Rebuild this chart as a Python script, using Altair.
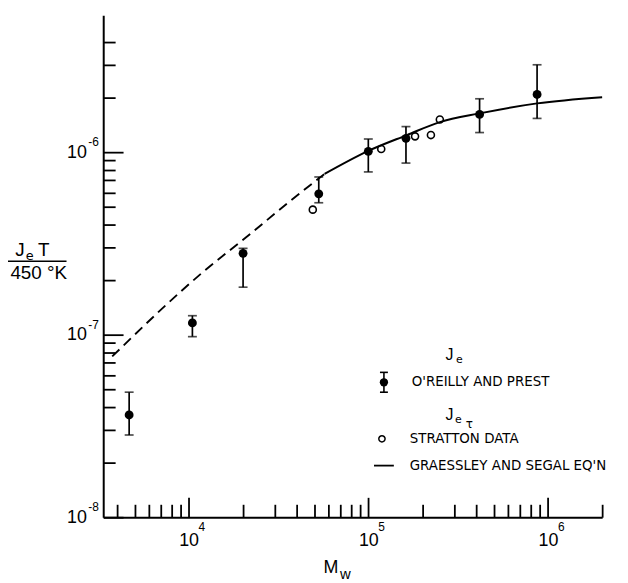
import math
import altair as alt
import pandas as pd

# ---------------- data ----------------
# O'Reilly and Prest (filled circles with error bars)
op_mw = [4670, 10500, 20100, 53000, 100000, 162000, 416000, 869000]
op_j = [3.63e-8, 1.16e-7, 2.79e-7, 5.91e-7, 1.01e-6, 1.19e-6, 1.61e-6, 2.07e-6]
op_hi = [4.84e-8, 1.27e-7, 2.97e-7, 7.31e-7, 1.18e-6, 1.38e-6, 1.96e-6, 3.01e-6]
op_lo = [2.82e-8, 9.75e-8, 1.82e-7, 5.28e-7, 7.79e-7, 8.71e-7, 1.28e-6, 1.53e-6]

# Stratton data (open circles)
st_mw = [49100, 118000, 182000, 223000, 250000]
st_j = [4.84e-7, 1.04e-6, 1.22e-6, 1.24e-6, 1.51e-6]

# Graessley and Segal equation (dashed part, then solid part)
gs_dash_mw = [3760, 12400, 21500, 35700, 57100]
gs_dash_j = [7.6e-8, 2.26e-7, 3.49e-7, 5.28e-7, 7.6e-7]
gs_solid_mw = [57100, 98700, 164000, 250000, 416000, 870000, 2000000]
gs_solid_j = [7.6e-7, 1.01e-6, 1.24e-6, 1.46e-6, 1.63e-6, 1.85e-6, 2.0e-6]

# axes
x_major = [1e4, 1e5, 1e6]
x_major_exp = ["4", "5", "6"]
y_major = [1e-8, 1e-7, 1e-6]
y_major_exp = ["-8", "-7", "-6"]
x_ticks = [4e3, 5e3, 6e3, 7e3, 8e3, 9e3, 1e4,
           2e4, 3e4, 4e4, 5e4, 6e4, 7e4, 8e4, 9e4, 1e5,
           2e5, 3e5, 4e5, 5e5, 6e5, 7e5, 8e5, 9e5, 1e6, 2e6]
y_ticks = [1e-8, 2e-8, 3e-8, 4e-8, 5e-8, 6e-8, 7e-8, 8e-8, 9e-8, 1e-7,
           2e-7, 3e-7, 4e-7, 5e-7, 6e-7, 7e-7, 8e-7, 9e-7, 1e-6,
           2e-6, 3e-6, 4e-6]

x_domain = [3350, 2.0e6]
y_domain = [1e-8, 5.62e-6]

# ---------------- tables ----------------
op_df = pd.DataFrame({"mw": op_mw, "j": op_j, "hi": op_hi, "lo": op_lo})
st_df = pd.DataFrame({"mw": st_mw, "j": st_j})
dash_df = pd.DataFrame({"mw": gs_dash_mw, "j": gs_dash_j})
solid_df = pd.DataFrame({"mw": gs_solid_mw, "j": gs_solid_j})
xexp_df = pd.DataFrame({"v": x_major, "t": x_major_exp})
yexp_df = pd.DataFrame({"v": y_major, "t": y_major_exp})

W, H = 503, 506
BLACK = "#000000"
NUMFONT = "Liberation Sans"
LEGFONT = "DejaVu Sans"

xs = alt.Scale(type="log", domain=x_domain, nice=False)
ys = alt.Scale(type="log", domain=y_domain, nice=False)

MAJOR_TEST = "abs(log(datum.value)/LN10 - round(log(datum.value)/LN10)) < 0.001"

x_main_axis = alt.Axis(orient="bottom", values=x_major, labelExpr="'10'",
                       ticks=False, tickSize=0, domain=True, domainColor=BLACK, domainWidth=2,
                       labelFont=NUMFONT, labelFontSize=18, labelColor=BLACK, labelPadding=15,
                       labelOffset=0, grid=False, title=None, labelFlush=False, labelOverlap=False)
y_main_axis = alt.Axis(orient="left", values=y_major, labelExpr="'10'",
                       ticks=False, tickSize=0, domain=True, domainColor=BLACK, domainWidth=2,
                       labelFont=NUMFONT, labelFontSize=18, labelColor=BLACK, labelPadding=17,
                       grid=False, title=None, labelFlush=False, labelOverlap=False)
x_tick_axis = alt.Axis(orient="top", offset=-H, values=x_ticks, labels=False, domain=False,
                       ticks=True, tickColor=BLACK, tickWidth=1.8,
                       tickSize={"condition": {"test": MAJOR_TEST, "value": 20}, "value": 13},
                       grid=False, title=None)
y_tick_axis = alt.Axis(orient="right", offset=-W, values=y_ticks, labels=False, domain=False,
                       ticks=True, tickColor=BLACK, tickWidth=1.8,
                       tickSize={"condition": {"test": MAJOR_TEST, "value": 20}, "value": 12},
                       grid=False, title=None)

solid = alt.Chart(solid_df).mark_line(color=BLACK, strokeWidth=2, interpolate="monotone").encode(
    x=alt.X("mw:Q", scale=xs, axis=x_main_axis),
    y=alt.Y("j:Q", scale=ys, axis=y_main_axis),
)
dashed = alt.Chart(dash_df).mark_line(color=BLACK, strokeWidth=1.9, interpolate="monotone",
                                       strokeDash=[10, 6]).encode(
    x=alt.X("mw:Q", scale=xs, axis=x_tick_axis),
    y=alt.Y("j:Q", scale=ys, axis=y_tick_axis),
)
err = alt.Chart(op_df).mark_rule(color=BLACK, strokeWidth=1.7).encode(
    x=alt.X("mw:Q", scale=xs, axis=None),
    y=alt.Y("lo:Q", scale=ys, axis=None),
    y2="hi:Q",
)
cap_hi = alt.Chart(op_df).mark_tick(color=BLACK, orient="horizontal", size=9, thickness=1.7).encode(
    x=alt.X("mw:Q", scale=xs, axis=None),
    y=alt.Y("hi:Q", scale=ys, axis=None),
)
cap_lo = alt.Chart(op_df).mark_tick(color=BLACK, orient="horizontal", size=9, thickness=1.7).encode(
    x=alt.X("mw:Q", scale=xs, axis=None),
    y=alt.Y("lo:Q", scale=ys, axis=None),
)
filled = alt.Chart(op_df).mark_point(shape="circle", filled=True, color=BLACK, size=80, opacity=1).encode(
    x=alt.X("mw:Q", scale=xs, axis=None),
    y=alt.Y("j:Q", scale=ys, axis=None),
)
opened = alt.Chart(st_df).mark_point(shape="circle", filled=False, color=BLACK, size=50,
                                      strokeWidth=1.6, opacity=1).encode(
    x=alt.X("mw:Q", scale=xs, axis=None),
    y=alt.Y("j:Q", scale=ys, axis=None),
)
# exponents of the axis labels
x_exp = alt.Chart(xexp_df).mark_text(font=NUMFONT, fontSize=12, align="left", baseline="middle",
                                     dx=10, color=BLACK).encode(
    x=alt.X("v:Q", scale=xs, axis=None), y=alt.value(H + 10), text="t:N")
y_exp = alt.Chart(yexp_df).mark_text(font=NUMFONT, fontSize=12, align="left", baseline="middle",
                                     dy=-10, color=BLACK).encode(
    y=alt.Y("v:Q", scale=ys, axis=None), x=alt.value(-15), text="t:N")


def one():
    return alt.Chart(alt.Data(values=[{}]))


def txt(text, x, y, size, font=NUMFONT, align="center", baseline="middle"):
    return one().mark_text(text=text, font=font, fontSize=size, align=align, baseline=baseline,
                           color=BLACK).encode(x=alt.value(x), y=alt.value(y))


def hline(x1, x2, y, w=1.6):
    return one().mark_rule(color=BLACK, strokeWidth=w).encode(
        x=alt.value(x1), x2=alt.value(x2), y=alt.value(y))


def vline(x, y1, y2, w=1.6):
    return one().mark_rule(color=BLACK, strokeWidth=w).encode(
        x=alt.value(x), y=alt.value(y1), y2=alt.value(y2))


annotations = [
    # y title as fraction
    txt("J", -84, 237, 19),
    txt("e", -74, 243, 13, font="DejaVu Sans"),
    txt("T", -60, 237, 19),
    hline(-96, -37, 248, 1.5),
    txt("450 °K", -65, 260, 19),
    # x title
    txt("M", 229.5, 557, 18),
    txt("w", 244, 563, 15),
    # legend
    txt("J", 349, 343, 16),
    txt("e", 359, 348, 11, font="DejaVu Sans"),
    vline(283, 360, 380),
    hline(279, 287, 360),
    hline(279, 287, 380),
    one().mark_point(shape="circle", filled=True, color=BLACK, size=70, opacity=1).encode(
        x=alt.value(283), y=alt.value(370)),
    txt("O'REILLY AND PREST", 311, 370, 13.5, font=LEGFONT, align="left"),
    txt("J", 349, 403, 16),
    txt("e", 358, 408, 11, font="DejaVu Sans"),
    txt("\u03c4", 369, 412, 12, font="DejaVu Sans"),
    one().mark_point(shape="circle", filled=False, color=BLACK, size=40, strokeWidth=1.5, opacity=1).encode(
        x=alt.value(281), y=alt.value(427)),
    txt("STRATTON DATA", 309, 427, 13.5, font=LEGFONT, align="left"),
    hline(273, 293, 454, 1.8),
    txt("GRAESSLEY AND SEGAL EQ'N", 309, 454, 13.5, font=LEGFONT, align="left"),
]

chart = alt.layer(solid, dashed, err, cap_hi, cap_lo, filled, opened, x_exp, y_exp, *annotations).resolve_axis(
    x="independent", y="independent"
).properties(
    width=W, height=H,
    autosize=alt.AutoSizeParams(type="none"),
    padding={"left": 96, "top": 5, "right": 18, "bottom": 62},
    background="white",
).configure_view(strokeWidth=0)

chart.save("out.html", embed_options={"renderer": "svg", "actions": False})
